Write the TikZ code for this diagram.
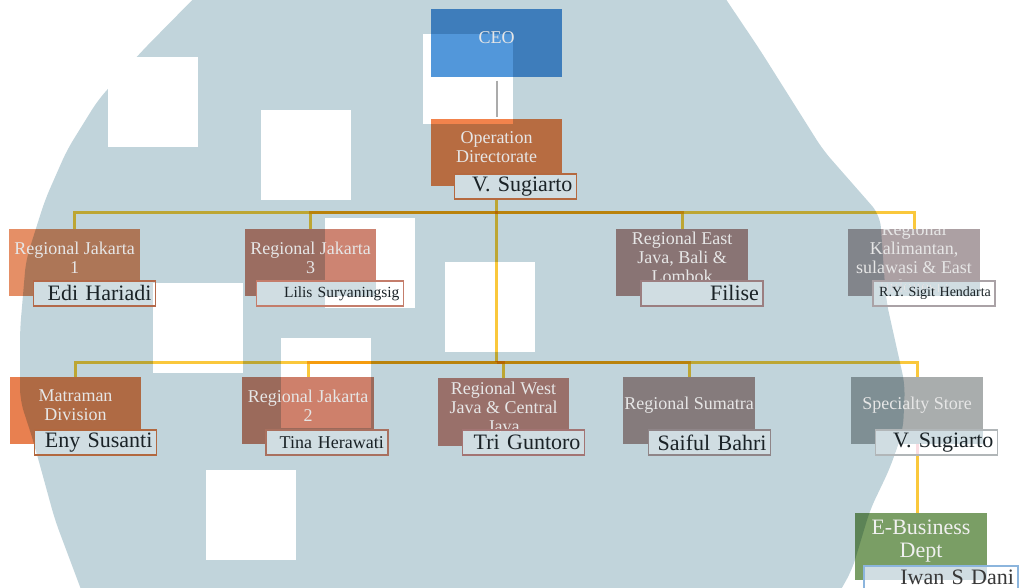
\documentclass[tikz,border=0pt]{standalone}
\usepackage{fontspec}
\setmainfont{Liberation Serif}

\definecolor{blob}{HTML}{C1D4DB}
\definecolor{ceoblue}{HTML}{5297DA}
\definecolor{oporange}{HTML}{F2834C}
\definecolor{jkt1}{HTML}{E58F66}
\definecolor{jkt2}{HTML}{CE806B}
\definecolor{jkt3}{HTML}{CD8472}
\definecolor{eastjava}{HTML}{B68C88}
\definecolor{kalim}{HTML}{ACA0A3}
\definecolor{matraman}{HTML}{E88050}
\definecolor{westjava}{HTML}{CB877C}
\definecolor{sumatra}{HTML}{B09491}
\definecolor{specialty}{HTML}{A9ADAD}
\definecolor{ebizgreen}{HTML}{7A9E65}
\definecolor{linkgold}{HTML}{FAC83C}
\definecolor{linkgray}{HTML}{ABABAB}
\definecolor{namefill}{HTML}{D0DDE2}
\definecolor{unittext}{HTML}{E6E6E6}
\definecolor{nametext}{HTML}{1A2226}
% frames of the name boxes
\definecolor{opbrown}{HTML}{B5693F}
\definecolor{jkt1brown}{HTML}{B3694A}
\definecolor{jkt3brown}{HTML}{C47D6B}
\definecolor{eastbrown}{HTML}{9B7E80}
\definecolor{kalimgray}{HTML}{AAA2A6}
\definecolor{matbrown}{HTML}{B2683F}
\definecolor{jkt2brown}{HTML}{A9705F}
\definecolor{westbrown}{HTML}{A37473}
\definecolor{sumgray}{HTML}{8F8588}
\definecolor{specgray}{HTML}{B1B6B8}
\definecolor{ebizblue}{HTML}{8CB5DD}

\pgfdeclarelayer{back}
\pgfdeclarelayer{fills}
\pgfdeclarelayer{namefills}
\pgfdeclarelayer{front}
\pgfsetlayers{back,fills,main,namefills,front}

\begin{document}
\begin{tikzpicture}[x=1pt, y=-1pt,
    unit/.style={minimum width=131pt, minimum height=67pt, inner sep=0pt,
      path picture={\node[unitlabel] at ([yshift=5pt]path picture bounding box.center) {#1};}},
    unitlabel/.style={text=unittext, align=center, inner sep=0pt,
      font=\fontsize{18}{19}\selectfont, every unit label},
    every unit label/.style={},
    person/.style={draw=#1, line width=1.5pt, anchor=north east, minimum height=25pt,
      text width=114pt, inner xsep=4pt, inner ysep=0pt, align=right, text=nametext,
      font=\fontsize{22}{24}\selectfont},
    link/.style={linkgold, line width=3pt},
  ]
    \useasboundingbox (0,0) rectangle (1022,588);

    % Background blob and white patches
    \begin{pgfonlayer}{back}
      \fill[white] (0,0) rectangle (1022,588);
      \fill[blob, rounded corners=12pt] (212,-20) -- (143,50) -- (98,100) -- (67,150)
        -- (45,200) -- (26,260) -- (20,330) -- (20,400) -- (33,440) -- (55,520)
        -- (85,600) -- (835,600) -- (852,570) -- (870,510) -- (890,468) -- (903,430)
        -- (905,385) -- (886,300) -- (880,215) -- (823,150) -- (760,50) -- (713,-20) -- cycle;
      \foreach \a/\b in {108/57, 261/110, 325/218, 445/262, 153/283, 206/470, 423/34, 281/338}
        \fill[white] (\a,\b) rectangle ++(90,90);
    \end{pgfonlayer}

    % Units
    \node[unit={CEO}] (ceo) at (496.5,43) {};
    \node[unit={Operation\\Directorate}] (op) at (496.5,152.5) {};
    \node[unit={Regional Jakarta\\1}] (r1) at (74.5,262.5) {};
    \node[unit={Regional Jakarta\\3}] (r3) at (310.5,262.5) {};
    \node[unit={Regional East\\Java, Bali \&\\Lombok}] (reast) at (682,262.5) {};
    \node[unit={Regional\\Kalimantan,\\sulawasi \& East\\Indonesia}] (rkal) at (914,262.5) {};
    \node[unit={Matraman\\Division}] (mat) at (75.5,410.5) {};
    \node[unit={Regional Jakarta\\2}] (r2) at (308,410.5) {};
    \node[unit={Regional West\\Java \& Central\\Java}] (rwest) at (503.5,412) {};
    \node[unit={Regional Sumatra}] (rsum) at (689,410.5) {};
    \node[unit={Specialty Store}] (spec) at (917,410.5) {};
    \node[unit={E-Business\\Dept},
      every unit label/.style={font=\fontsize{22}{23}\selectfont, text=white!94!black}]
      (ebiz) at (921,546.5) {};

    \coordinate (bus1) at (496.5,212);
    \coordinate (bus2) at (496.5,362);

    % Unit fills and links
    \begin{pgfonlayer}{fills}
      \begin{scope}[blend mode=multiply]
        \foreach \n/\c in {ceo/ceoblue, op/oporange, r1/jkt1, r3/jkt3, reast/eastjava,
            rkal/kalim, mat/matraman, r2/jkt2, rwest/westjava, rsum/sumatra,
            spec/specialty, ebiz/ebizgreen}
          \fill[\c] (\n.north west) rectangle (\n.south east);
        \draw[link] (op.south) -- (op.south |- bus2);
        \foreach \n in {r1,r3,reast,rkal}
          \draw[link] (bus1) -| (\n.north);
        \foreach \n in {mat,r2,rwest,rsum,spec}
          \draw[link] (bus2) -| (\n.north);
        \draw[link] (spec.south) -- (spec.south |- ebiz.north);
      \end{scope}
    \end{pgfonlayer}
    \draw[linkgray, line width=2pt, shorten <=4pt, shorten >=2pt] (ceo.south) -- (op.north);

    % Names
    \begin{pgfonlayer}{front}
      \node[person=opbrown] (nop) at ([xshift=15pt,yshift=13pt]op.south east) {V. Sugiarto};
      \node[person=jkt1brown] (nr1) at ([xshift=16pt,yshift=16pt]r1.south east) {Edi Hariadi};
      \node[person=jkt3brown, text width=139pt, font=\fontsize{15.5}{17}\selectfont] (nr3)
        at ([xshift=28pt,yshift=16pt]r3.south east) {Lilis Suryaningsig};
      \node[person=eastbrown] (neast) at ([xshift=16pt,yshift=16pt]reast.south east) {Filise};
      \node[person=kalimgray, font=\fontsize{14}{16}\selectfont] (nkal)
        at ([xshift=16pt,yshift=16pt]rkal.south east) {R.Y. Sigit Hendarta};
      \node[person=matbrown] (nmat) at ([xshift=16pt,yshift=15pt]mat.south east) {Eny Susanti};
      \node[person=jkt2brown, font=\fontsize{18}{20}\selectfont] (nr2)
        at ([xshift=15pt,yshift=15pt]r2.south east) {Tina Herawati};
      \node[person=westbrown] (nwest) at ([xshift=16pt,yshift=16.5pt]rwest.south east) {Tri Guntoro};
      \node[person=sumgray] (nsum) at ([xshift=16.5pt,yshift=15pt]rsum.south east) {Saiful Bahri};
      \node[person=specgray] (nspec) at ([xshift=15.5pt,yshift=15pt]spec.south east) {V. Sugiarto};
      \node[person=ebizblue, text width=146pt, minimum height=23pt, text depth=0pt,
        text=black!78] (nebiz)
        at ([xshift=32pt,yshift=15pt]ebiz.south east) {Iwan S Dani};
    \end{pgfonlayer}

    % Name box fills
    \begin{pgfonlayer}{namefills}
      \begin{scope}[blend mode=lighten]
        \foreach \n in {nop,nr1,nr3,neast,nkal,nmat,nr2,nwest,nsum,nspec,nebiz}
          \fill[namefill] (\n.north west) rectangle (\n.south east);
      \end{scope}
    \end{pgfonlayer}
\end{tikzpicture}
\end{document}
